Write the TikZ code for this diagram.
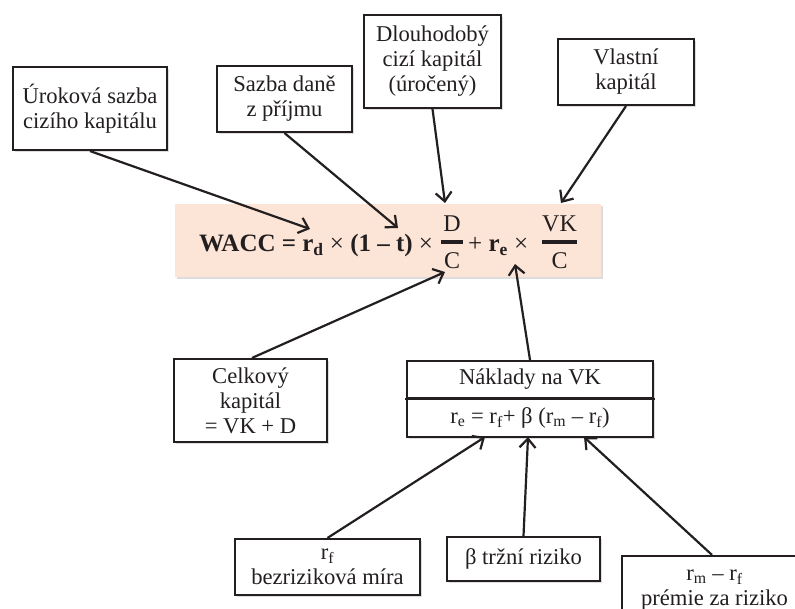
\documentclass[tikz,border=0pt]{standalone}
\usepackage{fontspec}
\setmainfont{Liberation Serif}
\usetikzlibrary{arrows.meta,shadows}
\definecolor{ink}{HTML}{231F20}
\definecolor{peach}{HTML}{FCE4D6}
\tikzset{
  softshadow/.style={drop shadow={shadow xshift=2pt, shadow yshift=-2pt, opacity=0.22, fill=black!60}},
  box/.style={draw=ink, line width=2.1pt, fill=white, align=center, inner sep=0pt, text=ink,
    font=\fontsize{22.6}{25}\selectfont, softshadow},
  link/.style={draw=ink, line width=2.2pt, -{Straight Barb[length=9pt,width=16pt]}},
  ftext/.style={inner sep=0pt, text=ink},
  fracbar/.style={fill=ink, inner sep=0pt, minimum height=3.4pt},
  bigfont/.style={font=\fontsize{25}{30}\selectfont},
  fracfont/.style={font=\fontsize{24}{28}\selectfont}
}
\begin{document}
\begin{tikzpicture}[x=1pt,y=-1pt]
\useasboundingbox (0,0) rectangle (795,609);
\clip (0,0) rectangle (795,609);
\fill[white] (0,0) rectangle (795,609);

% WACC formula
\node[fill=peach, inner sep=0pt, minimum width=426pt, minimum height=73pt, softshadow] (wacc) at (388,240.5) {};
\node[ftext, bigfont, anchor=base west] (lhs) at (199,252)
  {\bfseries WACC = r\textsubscript{d} \textmd{×} (1 – t) \textmd{×}};
\node[ftext, fracfont, anchor=base] (fd) at (452,232) {D};
\node[fracbar, minimum width=22pt] (bar1) at (452,242) {};
\node[ftext, fracfont, anchor=base] (fc) at (452,269) {C};
\node[ftext, bigfont, anchor=base west] (mid) at (468,252) {+ \textbf{r\textsubscript{e}} ×};
\node[ftext, fracfont, anchor=base] (fvk) at (559.5,232) {VK};
\node[fracbar, minimum width=35pt] (bar2) at (559.5,242) {};
\node[ftext, fracfont, anchor=base] (fc2) at (559.5,269) {C};

% input boxes
\node[box, minimum width=154pt, minimum height=83pt] (urok) at (90,108.5) {Úroková sazba\\cizího kapitálu};
\node[box, minimum width=135pt, minimum height=66pt] (dan) at (284.5,99) {Sazba daně\\z příjmu};
\node[box, minimum width=137pt, minimum height=93pt] (dlouh) at (432.5,61.5) {Dlouhodobý\\cizí kapitál\\(úročený)};
\node[box, minimum width=136pt, minimum height=66pt] (vlast) at (626,72) {Vlastní\\kapitál};
\node[box, minimum width=153pt, minimum height=83pt] (celk) at (250.5,400.5) {Celkový\\kapitál\\= VK + D};

% cost of equity
\node[box, minimum width=246pt, minimum height=37pt] (nakl) at (530,379.5) {Náklady na VK};
\node[box, minimum width=246pt, minimum height=39pt] (vzorec) at (530,417.5)
  {r\textsubscript{e} = r\textsubscript{f}+ β (r\textsubscript{m} – r\textsubscript{f})};
\draw[ink, line width=2.8pt] ([xshift=-0.8pt]nakl.south west) -- ([xshift=0.8pt]nakl.south east);

\node[box, minimum width=185pt, minimum height=56pt] (rf) at (327.5,567) {r\textsubscript{f}\\bezriziková míra};
\node[box, minimum width=153pt, minimum height=44pt] (beta) at (523.5,559) {β tržní riziko};
\node[box, minimum width=185pt, minimum height=68pt] (rm) at (714.5,590) {r\textsubscript{m} – r\textsubscript{f}\\prémie za riziko};

% arrow targets inside the formula and on the cost of equity box
\coordinate (tRd) at (310,229);
\coordinate (tT) at (398,228);
\coordinate (tD) at (445,203);
\coordinate (tVK) at (561,203);
\coordinate (tC) at (445,272);
\coordinate (tRe) at (515,264);
\coordinate (tN1) at (485,437);
\coordinate (tN2) at (528,437);
\coordinate (tN3) at (584,437);

\draw[link] (urok.south) -- (tRd);
\draw[link] (dan.south) -- (tT);
\draw[link] (dlouh.south) -- (tD);
\draw[link] (vlast.south) -- (tVK);
\draw[link] ([xshift=1.5pt]celk.north) -- (tC);
\draw[link] (nakl.north) -- (tRe);
\draw[link] (rf.north) -- (tN1);
\draw[link] (beta.north) -- (tN2);
\draw[link] ([xshift=-2.5pt]rm.north) -- (tN3);
\end{tikzpicture}
\end{document}
